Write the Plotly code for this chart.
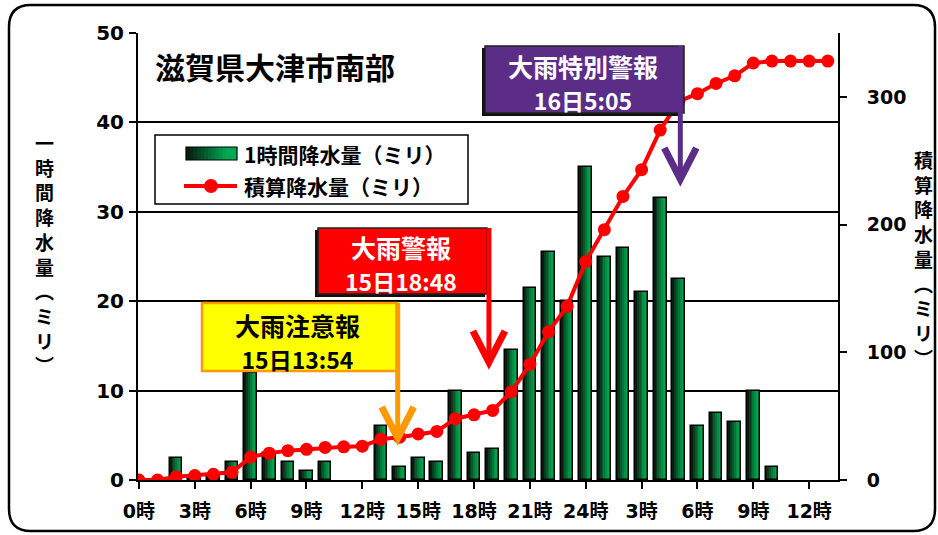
import plotly.graph_objects as go

# ---------------- data ----------------
hours = list(range(38))
tick_hours = [0, 3, 6, 9, 12, 15, 18, 21, 24, 27, 30, 33, 36]
tick_labels = ["0時", "3時", "6時", "9時", "12時", "15時", "18時", "21時", "24時",
               "3時", "6時", "9時", "12時"]
hourly_mm = [0, 0, 2.5, 0.5, 0.5, 2, 12, 3, 2, 1,
             2, 0, 0, 6, 1.5, 2.5, 2, 10, 3, 3.5,
             14.5, 21.5, 25.5, 20, 35, 25, 26, 21, 31.5, 22.5,
             6, 7.5, 6.5, 10, 1.5, 0, 0, 0]
cumulative_mm = [0, 0, 2.5, 3.5, 4.5, 6, 18, 21, 23, 24,
                 25.5, 26, 26.5, 32, 33.5, 36, 38, 48, 51, 54.5,
                 69, 90.5, 116, 136, 171, 196, 222, 243, 274, 296.5,
                 302.5, 310.5, 316.5, 326.5, 328, 328, 328, 328]
warn_names = ["大雨注意報", "大雨警報", "大雨特別警報"]
warn_times = ["15日13:54", "15日18:48", "16日5:05"]
warn_hours = [13.9, 18.8, 29.08]

title_text = "滋賀県大津市南部"
legend_bar = "1時間降水量（ミリ）"
legend_line = "積算降水量（ミリ）"
y1_title = "一時間降水量（ミリ）"
y2_title = "積算降水量（ミリ）"

# ---------------- geometry helpers ----------------
FIG_W, FIG_H = 938, 535
PL, PR, PT, PB = 138, 838, 33, 480
XMIN, XMAX = -0.05, 37.55


def fx(p):
    return (p - PL) / (PR - PL)


def fy(p):
    return (PB - p) / (PB - PT)


CJK = "Noto Sans CJK JP"
TICKF = "DejaVu Sans, Noto Sans CJK JP"

fig = go.Figure()

# ---------------- bars with horizontal gradient ----------------
BAR_W = 0.68
grad = ["#081c10", "#0a3a1f", "#08582c", "#067538", "#038e43", "#00a04c", "#00a853"]
bar_y = [v if v > 0 else None for v in hourly_mm]
N = len(grad)
for i, c in enumerate(grad):
    fig.add_trace(go.Bar(
        x=hours, y=bar_y, width=BAR_W - i * BAR_W / N, offset=-BAR_W / 2 + i * BAR_W / N,
        marker=dict(color=c, line=dict(width=0)), showlegend=False, hoverinfo="skip"))
fig.add_trace(go.Bar(
    x=hours, y=bar_y, width=BAR_W, offset=-BAR_W / 2, name=legend_bar,
    marker=dict(color="rgba(0,0,0,0)", line=dict(color="black", width=1.5)),
    showlegend=False))

# ---------------- cumulative line ----------------
fig.add_trace(go.Scatter(
    x=hours, y=cumulative_mm, yaxis="y2", mode="lines+markers", name=legend_line,
    line=dict(color="#ff0000", width=4), marker=dict(color="#ff0000", size=13),
    showlegend=False))

shapes = []
ann = []

# ---------------- outer rounded frame ----------------
x0, x1, yt, yb = fx(9), fx(935), fy(5), fy(531)
rx, ry = 22 / (PR - PL), 22 / (PB - PT)
path = (f"M {x0+rx},{yt} L {x1-rx},{yt} Q {x1},{yt} {x1},{yt-ry} L {x1},{yb+ry} "
        f"Q {x1},{yb} {x1-rx},{yb} L {x0+rx},{yb} Q {x0},{yb} {x0},{yb+ry} "
        f"L {x0},{yt-ry} Q {x0},{yt} {x0+rx},{yt} Z")
shapes.append(dict(type="path", xref="paper", yref="paper", path=path,
                   line=dict(color="black", width=2.5), layer="below"))

# ---------------- title ----------------
ann.append(dict(xref="paper", yref="paper", x=fx(153), y=fy(66), xanchor="left", yanchor="middle",
                text=title_text, showarrow=False,
                font=dict(family=CJK, size=30, color="black", weight=700)))

# ---------------- legend (drawn) ----------------
shapes.append(dict(type="rect", xref="paper", yref="paper", x0=fx(155), x1=fx(468), y0=fy(135), y1=fy(204),
                   fillcolor="white", line=dict(color="black", width=1.5), layer="above"))
sx0, sx1 = 186, 237
LG = 14
for i in range(LG):
    t = min(1.0, i / (LG * 0.75))
    r = int(8 + (0 - 8) * t)
    g = int(28 + (168 - 28) * t)
    bl = int(16 + (83 - 16) * t)
    shapes.append(dict(type="rect", xref="paper", yref="paper",
                       x0=fx(sx0 + i * (sx1 - sx0) / LG), x1=fx(sx1), y0=fy(147), y1=fy(160),
                       fillcolor=f"rgb({r},{g},{bl})", line=dict(width=0), layer="above"))
shapes.append(dict(type="rect", xref="paper", yref="paper", x0=fx(sx0), x1=fx(sx1), y0=fy(147), y1=fy(160),
                   fillcolor="rgba(0,0,0,0)", line=dict(color="black", width=1.2), layer="above"))
shapes.append(dict(type="line", xref="paper", yref="paper", x0=fx(sx0 - 2), x1=fx(sx1), y0=fy(186), y1=fy(186),
                   line=dict(color="#ff0000", width=4), layer="above"))
shapes.append(dict(type="circle", xref="paper", yref="paper", x0=fx(204), x1=fx(218), y0=fy(193), y1=fy(179),
                   fillcolor="#ff0000", line=dict(width=0), layer="above"))
for txt, yy in [(legend_bar, 154), (legend_line, 186)]:
    ann.append(dict(xref="paper", yref="paper", x=fx(242), y=fy(yy), xanchor="left", yanchor="middle",
                    text=txt, showarrow=False, font=dict(family=CJK, size=21, color="black", weight=700)))

# ---------------- warning callouts ----------------
boxes = [
    dict(l=202, r=397, t=303, b=371, fill="#ffff00", border="#ff9900", tc="black", ac="#ff9900",
         tip=438, ymid=341, shadow=False),
    dict(l=318, r=487, t=228, b=294, fill="#ff0000", border="#202020", tc="white", ac="#ff0000",
         tip=362, ymid=263, shadow=True),
    dict(l=485, r=684, t=46, b=113, fill="#5c2d87", border="#202020", tc="white", ac="#5c2d87",
         tip=179, ymid=82, shadow=True),
]
dx = 16 / ((PR - PL) / (XMAX - XMIN))
for name, tm, h, b in zip(warn_names, warn_times, warn_hours, boxes):
    if b["shadow"]:
        shapes.append(dict(type="rect", xref="paper", yref="paper", x0=fx(b["l"] - 3), x1=fx(b["r"] - 2),
                           y0=fy(b["t"] + 2), y1=fy(b["b"] + 3), fillcolor="#111111",
                           line=dict(width=0), layer="above"))
    shapes.append(dict(type="rect", xref="paper", yref="paper", x0=fx(b["l"]), x1=fx(b["r"]),
                       y0=fy(b["t"]), y1=fy(b["b"]), fillcolor=b["fill"],
                       line=dict(color=b["border"], width=1.5 if b["shadow"] else 2.5), layer="above"))
    shapes.append(dict(type="line", xref="x", yref="paper", x0=h, x1=h, y0=fy(b["t"]), y1=fy(b["tip"] - 3),
                       line=dict(color=b["ac"], width=5), layer="above"))
    shapes.append(dict(type="path", xref="x", yref="paper",
                       path=f"M {h-dx},{fy(b['tip']-31)} L {h},{fy(b['tip'])} L {h+dx},{fy(b['tip']-31)}",
                       line=dict(color=b["ac"], width=7), layer="above"))
    cx = fx((b["l"] + b["r"]) / 2 - 2)
    ann.append(dict(xref="paper", yref="paper", x=cx, y=fy(b["ymid"]), xanchor="center", yanchor="middle",
                    text=f"{name}<br><span style='font-size:23px'>{tm}</span>", showarrow=False,
                    borderpad=0, font=dict(family=CJK, size=25, color=b["tc"], weight=700)))

# ---------------- vertical axis titles (one stacked text each) ----------------
vert = {"（": "︵", "）": "︶"}


def vertical_title(text, xc, ymid, size):
    ann.append(dict(xref="paper", yref="paper", x=fx(xc), y=fy(ymid), xanchor="center", yanchor="middle",
                    text="<br>".join(vert.get(ch, ch) for ch in text), showarrow=False, borderpad=0,
                    font=dict(family=CJK, size=size, color="black", weight=700)))


vertical_title(y1_title, 44, 253, 19)
vertical_title(y2_title, 923, 258, 19)

fig.update_layout(
    width=FIG_W, height=FIG_H, margin=dict(l=PL, r=FIG_W - PR, t=PT, b=FIG_H - PB),
    paper_bgcolor="white", plot_bgcolor="white", barmode="overlay", bargap=0,
    showlegend=False, shapes=shapes, annotations=ann,
    xaxis=dict(range=[XMIN, XMAX], tickmode="array", tickvals=tick_hours, ticktext=tick_labels,
               showgrid=False, zeroline=False, showline=True, linecolor="black", linewidth=2,
               ticks="outside", ticklen=7, tickwidth=2, tickcolor="black", ticklabelstandoff=6,
               tickfont=dict(family=TICKF, size=19, color="black", weight=700)),
    yaxis=dict(range=[0, 50], dtick=10, showgrid=True, gridcolor="black", gridwidth=1.5,
               zeroline=False, showline=True, linecolor="black", linewidth=2,
               ticks="outside", ticklen=7, tickwidth=2, tickcolor="black", ticklabelstandoff=1,
               tickfont=dict(family=TICKF, size=20, color="black", weight=700)),
    yaxis2=dict(range=[0, 350], tickvals=[0, 100, 200, 300], overlaying="y", side="right",
                showgrid=False, zeroline=False, showline=True, linecolor="black", linewidth=2,
                ticks="outside", ticklen=7, tickwidth=2, tickcolor="black", ticklabelstandoff=16,
                tickfont=dict(family=TICKF, size=19, color="black", weight=700)),
)

fig.write_html("out.html", config={"displayModeBar": False},
               post_script="document.body.style.margin='0';document.body.style.overflow='hidden';")
